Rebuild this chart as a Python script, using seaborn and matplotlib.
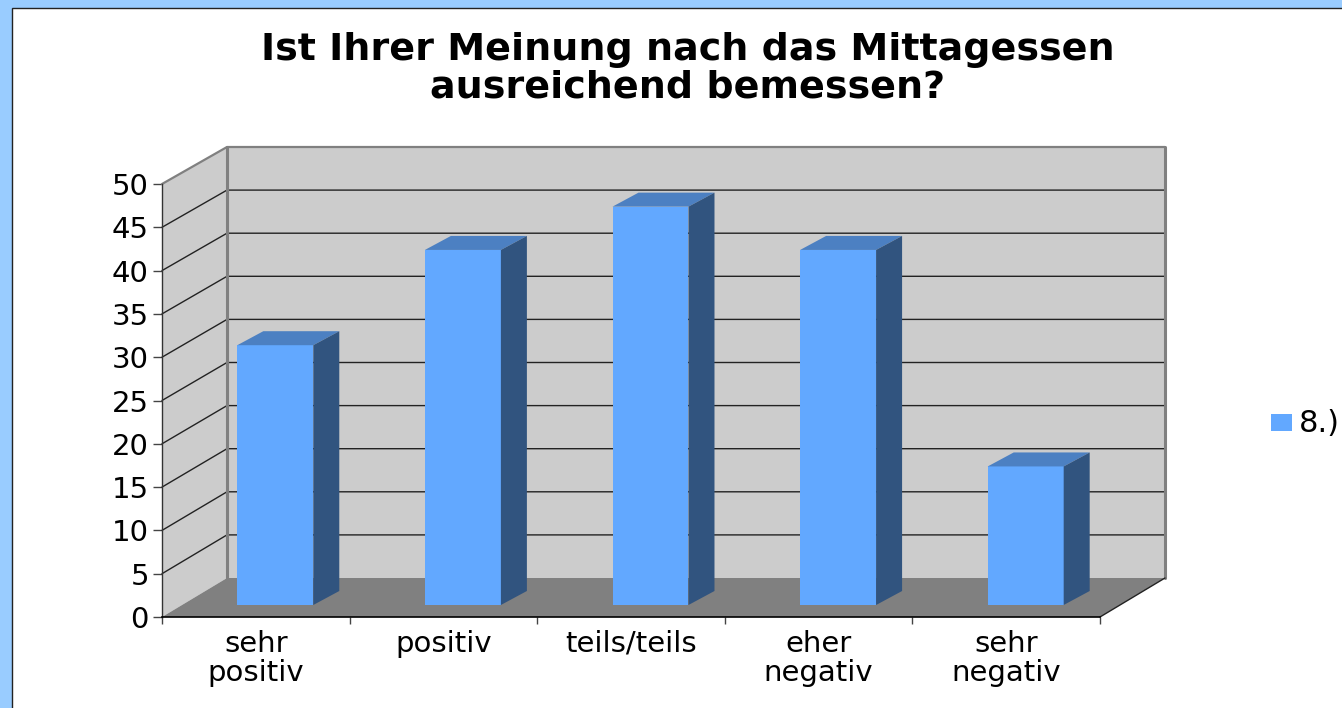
import matplotlib
matplotlib.use("Agg")
import matplotlib.pyplot as plt
from matplotlib.patches import Polygon, Rectangle
import pandas as pd
import seaborn as sns

TITLE = "Ist Ihrer Meinung nach das Mittagessen\nausreichend bemessen?"
CATEGORIES = ["sehr\npositiv", "positiv", "teils/teils", "eher\nnegativ", "sehr\nnegativ"]
VALUES = [30, 41, 46, 41, 16]
Y_TICKS = list(range(0, 55, 5))
SERIES = "8.)"

W, H = 1342, 708
# front plane of the fake 3d box, in pixels
LEFT, RIGHT, BOTTOM, TOP = 162, 1100, 617, 184
BACK_DX = 65
BACK_DY_FLOOR, BACK_DY_TOP = 39, 37
BAR_DX, BAR_DY = 19.5, 12
BAR_DEPTH_X, BAR_DEPTH_Y = 26, 14

WALL = "#cccccc"
FLOOR = "#808080"
EDGE = "#808080"
BAR = "#62a8ff"
BAR_TOP = "#4c80c2"
BAR_SIDE = "#31547f"


def axes_rect(dx=0, dy=0):
    return [(LEFT + dx) / W, (H - BOTTOM + dy) / H, (RIGHT - LEFT) / W, (BOTTOM - TOP) / H]


def back_y(v):
    # height of value v on the back wall, the wall is a bit shorter than the front
    return v + (BACK_DY_FLOOR + (BACK_DY_TOP - BACK_DY_FLOOR) * v / 50) / sy


sns.set_theme(style="white")
plt.rcParams["font.family"] = ["DejaVu Sans"]

fig = plt.figure(figsize=(W / 100, H / 100), dpi=100, facecolor="#99ccff")
fig.patches.append(Rectangle((12 / W, -0.01), 1.01, 1 - 8 / H + 0.01, transform=fig.transFigure,
                             facecolor="white", edgecolor="#222222", linewidth=1, zorder=-5))

ax = fig.add_axes(axes_rect())
ax.set_xlim(-0.5, 4.5)
ax.set_ylim(0, 50)
ax.patch.set_visible(False)

# px -> data units
sx = (RIGHT - LEFT) / 5
sy = (BOTTOM - TOP) / 50
bx = BACK_DX / sx
x0, x1 = -0.5, 4.5

ax.add_patch(Polygon([(x0 + bx, back_y(0)), (x1 + bx, back_y(0)), (x1 + bx, back_y(50)), (x0 + bx, back_y(50))],
                     facecolor=WALL, edgecolor="none", clip_on=False, zorder=1))
ax.add_patch(Polygon([(x0, 0), (x0 + bx, back_y(0)), (x0 + bx, back_y(50)), (x0, 50)],
                     facecolor=WALL, edgecolor="none", clip_on=False, zorder=1))
ax.add_patch(Polygon([(x0, 0), (x1, 0), (x1 + bx, back_y(0)), (x0 + bx, back_y(0))],
                     facecolor=FLOOR, edgecolor="none", clip_on=False, zorder=1.5))

for v in Y_TICKS[1:-1]:
    ax.plot([x0, x0 + bx, x1 + bx], [v, back_y(v), back_y(v)], color="#222222", lw=1,
            clip_on=False, zorder=1.2)

ax.plot([x0, x0 + bx, x1 + bx], [50, back_y(50), back_y(50)], color=EDGE, lw=1.6,
        clip_on=False, zorder=1.3)
ax.plot([x0 + bx, x0 + bx], [back_y(0), back_y(50)], color=EDGE, lw=2.2, clip_on=False, zorder=1.3)
ax.plot([x1 + bx, x1 + bx], [back_y(0), back_y(50)], color=EDGE, lw=2.2, clip_on=False, zorder=1.3)
ax.plot([x1, x1 + bx], [0, back_y(0)], color="#222222", lw=1, clip_on=False, zorder=1.6)

for side in ["top", "right"]:
    ax.spines[side].set_visible(False)
ax.spines["left"].set_color("#333333")
ax.spines["bottom"].set_color("black")
ax.spines["left"].set_linewidth(1)
ax.spines["bottom"].set_linewidth(1.2)
ax.spines["left"].set_zorder(3)
ax.spines["bottom"].set_zorder(3)

ax.set_yticks(Y_TICKS)
ax.set_xticks([i - 0.5 for i in range(6)])
ax.set_xticklabels([])
ax.set_xticks(range(5), CATEGORIES, minor=True)
ax.tick_params(axis="y", left=True, length=6.5, width=1, color="#444444", labelsize=21, pad=3,
               labelcolor="black")
ax.tick_params(axis="x", which="major", bottom=True, length=5, width=1, color="#444444")
ax.tick_params(axis="x", which="minor", bottom=False, length=0, labelsize=21, pad=9,
               labelcolor="black")
for lab in ax.get_xticklabels(minor=True):
    lab.set_linespacing(1.05)

# bars sit in their own axes, shifted into the depth of the box
ax_bars = fig.add_axes(axes_rect(BAR_DX, BAR_DY), sharex=None)
ax_bars.patch.set_visible(False)
df = pd.DataFrame({"category": CATEGORIES, "value": VALUES, "series": SERIES})
sns.barplot(data=df, x="category", y="value", hue="series", palette=[BAR], width=0.405,
            saturation=1, dodge=False, ax=ax_bars, legend=False, linewidth=0, edgecolor="none")
ax_bars.set_xlim(-0.5, 4.5)
ax_bars.set_ylim(0, 50)
ax_bars.axis("off")

dx, dy = BAR_DEPTH_X / sx, BAR_DEPTH_Y / sy
for bar in list(ax_bars.patches):
    bx0, bx1, h = bar.get_x(), bar.get_x() + bar.get_width(), bar.get_height()
    ax_bars.add_patch(Polygon([(bx0, h), (bx1, h), (bx1 + dx, h + dy), (bx0 + dx, h + dy)],
                              facecolor=BAR_TOP, edgecolor="none", clip_on=False))
    ax_bars.add_patch(Polygon([(bx1, 0), (bx1 + dx, dy), (bx1 + dx, h + dy), (bx1, h)],
                              facecolor=BAR_SIDE, edgecolor="none", clip_on=False))

fig.text(688 / W, 1 - 69 / H, TITLE, ha="center", va="center", fontsize=27.4, fontweight="bold",
         color="black", linespacing=1.04)

# legend
fig.patches.append(Rectangle((1271 / W, 1 - 431 / H), 21 / W, 17 / H, transform=fig.transFigure,
                             facecolor=BAR, edgecolor="none", label=SERIES))
fig.text(1299 / W, 1 - 423 / H, SERIES, ha="left", va="center", fontsize=22, color="black")

fig.savefig("out.png", dpi=100, facecolor=fig.get_facecolor())
